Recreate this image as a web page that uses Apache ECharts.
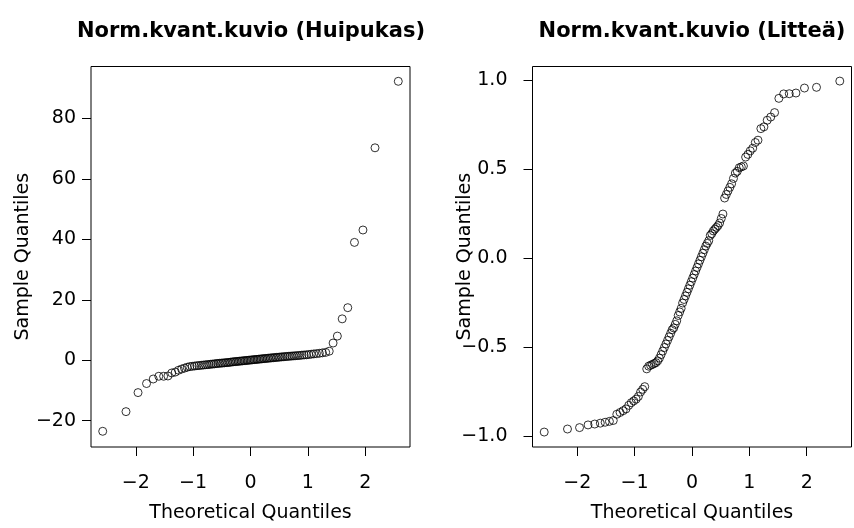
<!DOCTYPE html>
<html><head><meta charset="utf-8">
<script src="https://cdn.jsdelivr.net/npm/echarts@6/dist/echarts.min.js"></script>
<style>html,body{margin:0;padding:0;background:#fff}#c{width:854px;height:528px}</style>
</head><body><div id="c"></div>
<script>
// Theoretical normal quantiles for n = 100 (ppoints)
const theoreticalQ = [
-2.5758,-2.1701,-1.9600,-1.8119,-1.6954,-1.5982,-1.5141,-1.4395,-1.3722,-1.3106,
-1.2536,-1.2004,-1.1503,-1.1031,-1.0581,-1.0152,-0.9741,-0.9346,-0.8965,-0.8596,
-0.8239,-0.7892,-0.7554,-0.7225,-0.6903,-0.6588,-0.6280,-0.5978,-0.5681,-0.5388,
-0.5101,-0.4817,-0.4538,-0.4261,-0.3989,-0.3719,-0.3451,-0.3186,-0.2924,-0.2663,
-0.2404,-0.2147,-0.1891,-0.1637,-0.1383,-0.1130,-0.0878,-0.0627,-0.0376,-0.0125,
0.0125,0.0376,0.0627,0.0878,0.1130,0.1383,0.1637,0.1891,0.2147,0.2404,
0.2663,0.2924,0.3186,0.3451,0.3719,0.3989,0.4261,0.4538,0.4817,0.5101,
0.5388,0.5681,0.5978,0.6280,0.6588,0.6903,0.7225,0.7554,0.7892,0.8239,
0.8596,0.8965,0.9346,0.9741,1.0152,1.0581,1.1031,1.1503,1.2004,1.2536,
1.3106,1.3722,1.4395,1.5141,1.5982,1.6954,1.8119,1.9600,2.1701,2.5758
];
// Sample quantiles, "Huipukas" (heavy tailed)
const huipukasSample = [
-23.5,-17.0,-10.7,-7.7,-6.2,-5.3,-5.3,-5.2,-4.2,-3.9,
-3.3,-2.9,-2.6,-2.3,-2.1,-2.0,-1.9,-1.8,-1.75,-1.65,
-1.6,-1.5,-1.45,-1.4,-1.3,-1.25,-1.2,-1.1,-1.05,-1.0,
-0.95,-0.9,-0.85,-0.8,-0.75,-0.7,-0.62,-0.55,-0.5,-0.45,
-0.4,-0.35,-0.3,-0.25,-0.2,-0.15,-0.1,-0.05,0.0,0.05,
0.1,0.15,0.2,0.25,0.3,0.35,0.4,0.45,0.5,0.55,
0.6,0.65,0.7,0.75,0.8,0.85,0.9,0.95,1.0,1.05,
1.1,1.15,1.2,1.25,1.3,1.35,1.4,1.45,1.5,1.55,
1.6,1.7,1.75,1.8,1.9,2.0,2.1,2.2,2.3,2.45,
2.6,3.0,5.7,8.0,13.7,17.4,39.0,43.1,70.3,92.3
];
// Sample quantiles, "Littea" (flat / light tailed)
const litteaSample = [
-0.975,-0.958,-0.95,-0.935,-0.93,-0.925,-0.92,-0.915,-0.91,-0.875,
-0.865,-0.855,-0.845,-0.825,-0.81,-0.80,-0.79,-0.775,-0.75,-0.735,
-0.72,-0.62,-0.605,-0.60,-0.595,-0.59,-0.585,-0.575,-0.56,-0.54,
-0.52,-0.50,-0.48,-0.46,-0.44,-0.42,-0.40,-0.39,-0.37,-0.35,
-0.32,-0.30,-0.28,-0.25,-0.23,-0.21,-0.19,-0.17,-0.15,-0.13,
-0.11,-0.09,-0.07,-0.05,-0.03,-0.01,0.01,0.03,0.05,0.07,
0.085,0.10,0.13,0.14,0.155,0.165,0.175,0.185,0.20,0.225,
0.25,0.34,0.36,0.38,0.40,0.42,0.45,0.48,0.49,0.51,
0.515,0.52,0.57,0.585,0.605,0.62,0.652,0.665,0.73,0.74,
0.777,0.795,0.82,0.90,0.925,0.926,0.93,0.958,0.962,0.997
];
const xTicks = [-2,-1,0,1,2];
const huipukasYTicks = [-20,0,20,40,60,80];
const litteaYTicks = [-1,-0.5,0,0.5,1];
const plotTitles = ['Norm.kvant.kuvio (Huipukas)','Norm.kvant.kuvio (Litteä)'];
const xName = 'Theoretical Quantiles';
const yName = 'Sample Quantiles';

const FONT = 'DejaVu Sans';
const minus = s => String(s).replace('-', '\u2212');
const pairs = ys => theoreticalQ.map((x, i) => [x, ys[i]]);

const chart = echarts.init(document.getElementById('c'), null, {renderer: 'canvas'});

function xAxisOf(gi) {
  return {
    gridIndex: gi, type: 'value', min: -2.78, max: 2.78,
    axisLine: {show: false, onZero: false}, splitLine: {show: false},
    axisTick: {show: true, inside: false, length: 9, customValues: xTicks, lineStyle: {color: '#000', width: 1}},
    axisLabel: {customValues: xTicks, formatter: v => minus(v), margin: 27, fontSize: 19, color: '#000', fontFamily: FONT},
    name: xName, nameLocation: 'middle', nameGap: 57, nameMoveOverlap: false,
    nameTextStyle: {fontSize: 19, color: '#000', fontFamily: FONT}
  };
}
function yAxisOf(gi, min, max, ticks, fmt, margin, gap) {
  return {
    gridIndex: gi, type: 'value', min: min, max: max,
    axisLine: {show: false, onZero: false}, splitLine: {show: false},
    axisTick: {show: true, inside: false, length: 9, customValues: ticks, lineStyle: {color: '#000', width: 1}},
    axisLabel: {customValues: ticks, formatter: fmt, margin: margin, fontSize: 19, color: '#000', fontFamily: FONT},
    name: yName, nameLocation: 'middle', nameRotate: 90, nameGap: gap, nameMoveOverlap: false,
    nameTextStyle: {fontSize: 19, color: '#000', fontFamily: FONT}
  };
}
const sym = {color: 'rgba(0,0,0,0)', borderColor: '#000', borderWidth: 1};

chart.setOption({
  animation: false,
  backgroundColor: '#fff',
  grid: [
    {left: 91, top: 66.5, width: 319, height: 384, show: true, borderColor: '#000', borderWidth: 1, backgroundColor: 'transparent'},
    {left: 532.5, top: 66.5, width: 319, height: 384, show: true, borderColor: '#000', borderWidth: 1, backgroundColor: 'transparent'}
  ],
  xAxis: [xAxisOf(0), xAxisOf(1)],
  yAxis: [
    yAxisOf(0, -28.7, 97.2, huipukasYTicks, v => minus(v), 15, 58),
    yAxisOf(1, -1.059, 1.079, litteaYTicks, v => minus(Number(v).toFixed(1)), 25, 58)
  ],
  graphic: [
    {type: 'text', x: 251, y: 32, style: {text: plotTitles[0], font: 'bold 21px "DejaVu Sans"', fill: '#000', textAlign: 'center', textVerticalAlign: 'middle'}},
    {type: 'text', x: 692, y: 32, style: {text: plotTitles[1], font: 'bold 21px "DejaVu Sans"', fill: '#000', textAlign: 'center', textVerticalAlign: 'middle'}}
  ],
  series: [
    {type: 'scatter', xAxisIndex: 0, yAxisIndex: 0, data: pairs(huipukasSample), symbol: 'circle', symbolSize: 8, itemStyle: sym, silent: true},
    {type: 'scatter', xAxisIndex: 1, yAxisIndex: 1, data: pairs(litteaSample), symbol: 'circle', symbolSize: 8, itemStyle: sym, silent: true}
  ]
});
</script></body></html>
